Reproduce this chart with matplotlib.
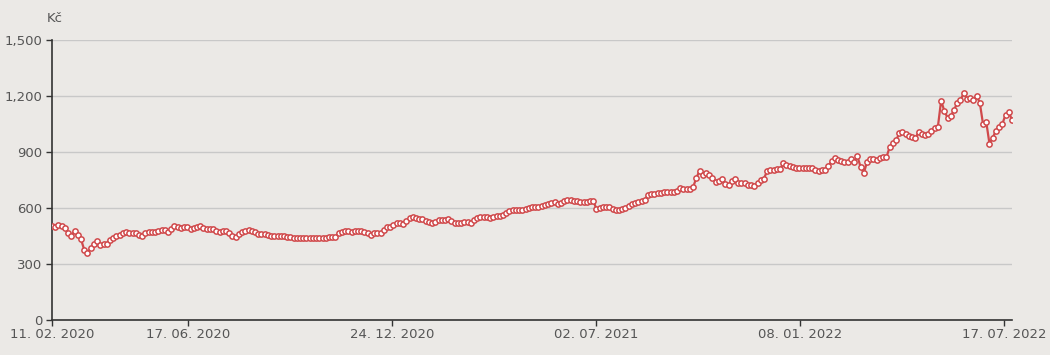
import numpy as np
import pandas as pd
import matplotlib
matplotlib.use("Agg")
import matplotlib.pyplot as plt
import matplotlib.dates as mdates
from matplotlib.ticker import FuncFormatter

# price series, one reading every 3 days starting 11. 02. 2020
start_date = "2020-02-11"
step_days = 3
prices = [
    504, 500, 507, 506, 495, 466, 450, 478, 458, 432,
    377, 358, 385, 408, 424, 404, 405, 406, 430, 440,
    450, 455, 466, 472, 464, 466, 467, 458, 452, 465,
    470, 471, 473, 476, 480, 480, 474, 488, 503, 500,
    493, 496, 497, 489, 494, 500, 506, 495, 485, 490,
    488, 477, 473, 476, 477, 468, 452, 446, 462, 470,
    476, 480, 479, 470, 461, 462, 459, 455, 452, 451,
    450, 450, 450, 447, 442, 438, 438, 438, 437, 438,
    439, 440, 441, 441, 441, 441, 442, 443, 443, 467,
    474, 477, 475, 473, 475, 476, 477, 472, 466, 458,
    465, 468, 466, 480, 497, 497, 508, 518, 518, 516,
    530, 545, 551, 548, 543, 539, 532, 527, 522, 523,
    534, 536, 538, 540, 532, 522, 518, 521, 526, 527,
    522, 535, 545, 550, 553, 551, 549, 552, 555, 558,
    562, 572, 585, 590, 591, 591, 591, 593, 598, 604,
    605, 607, 610, 616, 621, 626, 630, 621, 626, 636,
    645, 643, 639, 636, 634, 634, 634, 636, 639, 595,
    600, 604, 604, 604, 594, 589, 591, 595, 602, 610,
    620, 627, 632, 638, 645, 670, 673, 677, 680, 682,
    684, 686, 687, 687, 692, 705, 702, 700, 703, 712,
    760, 800, 777, 786, 775, 760, 741, 745, 754, 730,
    725, 742, 757, 732, 736, 736, 725, 722, 718, 732,
    748, 757, 800, 805, 806, 807, 808, 839, 832, 827,
    820, 813, 813, 813, 813, 813, 812, 805, 799, 802,
    805, 826, 850, 866, 858, 850, 848, 848, 861, 848,
    877, 820, 786, 848, 860, 860, 857, 870, 873, 871,
    925, 950, 962, 1000, 1009, 997, 986, 982, 975, 1006,
    995, 991, 995, 1014, 1028, 1036, 1175, 1120, 1083, 1093,
    1125, 1163, 1178, 1214, 1186, 1190, 1180, 1200, 1165, 1050,
    1062, 945, 975, 1015, 1034, 1050, 1100, 1115, 1071,
]
tick_dates = ["2020-02-11", "2020-06-17", "2020-12-24", "2021-07-02", "2022-01-08", "2022-07-17"]
y_ticks = [0, 300, 600, 900, 1200, 1500]

dates = pd.date_range(start_date, periods=len(prices), freq=f"{step_days}D")

bg = "#ebe9e6"
red = "#d0494b"
text_col = "#555555"

fig = plt.figure(figsize=(10.5, 3.55), dpi=100, facecolor=bg)
ax = fig.add_axes([52 / 1050, 1 - 320 / 355, 960 / 1050, 280 / 355], facecolor=bg)

ax.plot(dates, prices, color=red, linewidth=1.6, marker="o", markersize=3.8,
        markerfacecolor="white", markeredgecolor=red, markeredgewidth=1.1, zorder=3)

ax.set_xlim(dates[0], dates[-1])
ax.set_ylim(0, 1500)
ax.set_yticks(y_ticks)
ax.yaxis.set_major_formatter(FuncFormatter(lambda v, p: f"{int(v):,}"))
ax.set_xticks(pd.to_datetime(tick_dates))
ax.xaxis.set_major_formatter(mdates.DateFormatter("%d. %m. %Y"))

ax.grid(axis="y", color="#c8c8c8", linewidth=1)
ax.set_axisbelow(True)
for s in ["top", "right"]:
    ax.spines[s].set_visible(False)
for s in ["left", "bottom"]:
    ax.spines[s].set_color("#333333")
    ax.spines[s].set_linewidth(1.2)

ax.tick_params(axis="both", colors="#333333", labelcolor=text_col, labelsize=9.5,
               length=4, width=1)
ax.tick_params(axis="y", pad=3)
ax.tick_params(axis="x", pad=2)

ax.text(0.003, 1.055, "Kč", transform=ax.transAxes, fontsize=9.5, color=text_col,
        ha="center", va="bottom")

fig.savefig("out.png", dpi=100, facecolor=bg)
